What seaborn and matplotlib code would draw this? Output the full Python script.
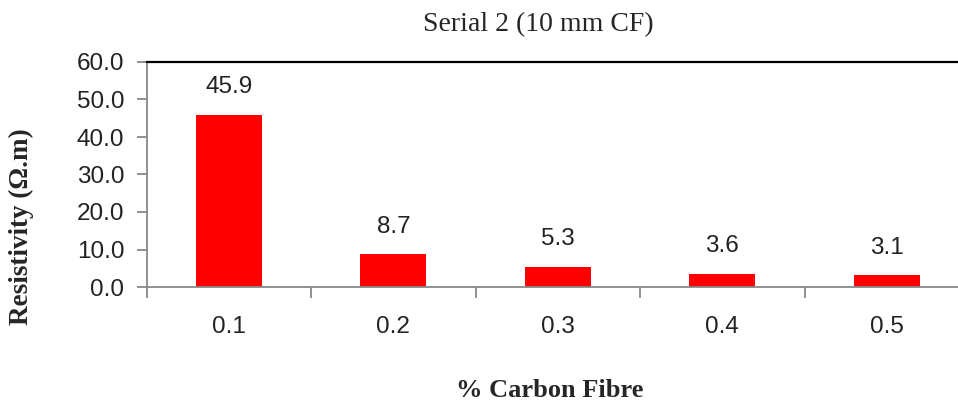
import numpy as np
import pandas as pd
import seaborn as sns
import matplotlib.pyplot as plt
from matplotlib.ticker import FixedLocator

# data
fibre = ['0.1', '0.2', '0.3', '0.4', '0.5']
resistivity = [45.9, 8.7, 5.3, 3.6, 3.1]

df = pd.DataFrame({'fibre': fibre, 'resistivity': resistivity})

sns.set_style('white')
plt.rcParams['font.family'] = ['Liberation Sans', 'DejaVu Sans']

fig = plt.figure(figsize=(9.58, 4.05), dpi=100)
ax = fig.add_axes([146.7 / 958, 118 / 405, (969 - 146.7) / 958, 225 / 405])

sns.barplot(data=df, x='fibre', y='resistivity', color='#ff0000',
            saturation=1, width=0.4, edgecolor='none', ax=ax)

for patch, v in zip(ax.patches, resistivity):
    ax.annotate(f'{v:.1f}', (patch.get_x() + patch.get_width() / 2, v),
                xytext=(0, 12), textcoords='offset points',
                ha='center', va='bottom', fontsize=17.5, color='#222222')

ax.set_xlim(-0.5, 4.5)
ax.set_ylim(0, 60)
ax.set_yticks(np.arange(0, 61, 10))
ax.set_yticklabels([f'{t:.1f}' for t in np.arange(0, 61, 10)])

# ticks between categories on the x axis
ax.xaxis.set_minor_locator(FixedLocator(np.arange(-0.5, 5, 1)))
ax.tick_params(axis='x', which='major', length=0, pad=21, labelsize=17.5, labelcolor='#222222')
ax.tick_params(axis='x', which='minor', length=8, width=1.3, color='#888888', direction='out', bottom=True)
ax.tick_params(axis='y', length=7, width=1.3, color='#888888', direction='out', left=True,
               pad=9, labelsize=17.5, labelcolor='#222222')

for side in ['left', 'bottom']:
    ax.spines[side].set_color('#888888')
    ax.spines[side].set_linewidth(1.3)
ax.spines['top'].set_color('black')
ax.spines['top'].set_linewidth(1.6)
ax.spines['right'].set_visible(False)

serif = ['Liberation Serif', 'DejaVu Serif']
ax.set_title('Serial 2 (10 mm CF)', family=serif, fontsize=20, x=0.476, pad=22)
ax.set_xlabel('% Carbon Fibre', family=serif, fontsize=19, fontweight='bold', va='top')
ax.set_ylabel('Resistivity (Ω.m)', family=serif, fontsize=19.5, fontweight='bold')
ax.xaxis.set_label_coords(0.4905, -0.41)
ax.yaxis.set_label_coords(-0.137, 0.2666)

fig.savefig('out.png', dpi=100)
